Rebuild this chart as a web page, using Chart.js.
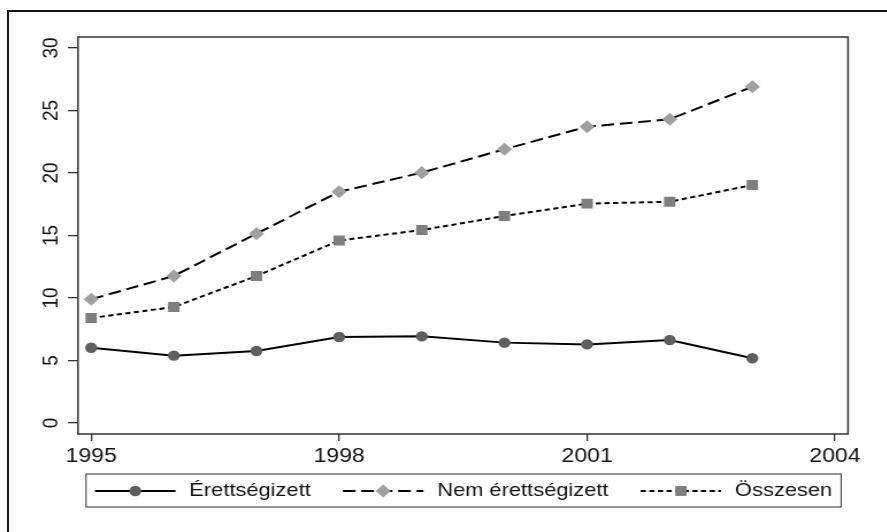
<!DOCTYPE html>
<html>
<head>
<meta charset="utf-8">
<script src="https://cdn.jsdelivr.net/npm/chart.js"></script>
<style>
    html, body { margin: 0; padding: 0; background: #fff; overflow: hidden; }
    body { width: 887px; height: 532px; position: relative; }
    #frame {
        position: absolute; left: 7px; top: 10px; width: 1000px; height: 1000px;
        border-left: 2px solid #111; border-top: 2px solid #111;
    }
    #stretch {
        position: absolute; left: 0; top: 0;
        transform: scaleX(1.15); transform-origin: 0 0;
    }
</style>
</head>
<body>
<div id="frame"></div>
<div id="stretch">
    <canvas id="chart" width="771" height="532"></canvas>
</div>
<script>
const years = [1995, 1996, 1997, 1998, 1999, 2000, 2001, 2002, 2003];
const erettsegizett = [6.02, 5.39, 5.76, 6.88, 6.93, 6.43, 6.29, 6.64, 5.18];
const nemErettsegizett = [9.9, 11.76, 15.15, 18.5, 20.03, 21.9, 23.7, 24.3, 26.9];
const osszesen = [8.4, 9.28, 11.76, 14.6, 15.44, 16.56, 17.55, 17.7, 19.04];

const xTicks = [1995, 1998, 2001, 2004];
const yTicks = [0, 5, 10, 15, 20, 25, 30];

const FONT = '"Liberation Sans", Arial, sans-serif';

function points(values) {
    return values.map((v, i) => ({ x: years[i], y: v }));
}

function drawMarker(ctx, style, r, x, y, color) {
    ctx.fillStyle = color;
    ctx.beginPath();
    if (style === 'circle') {
        ctx.arc(x, y, r, 0, Math.PI * 2);
    } else if (style === 'rect') {
        const s = r * Math.SQRT1_2;
        ctx.rect(x - s, y - s, 2 * s, 2 * s);
    } else {
        ctx.moveTo(x, y - r);
        ctx.lineTo(x + r, y);
        ctx.lineTo(x, y + r);
        ctx.lineTo(x - r, y);
        ctx.closePath();
    }
    ctx.fill();
}

// plot frame + legend box under the axis
const framePlugin = {
    id: 'framePlugin',
    afterDraw(chart) {
        const { ctx, chartArea } = chart;
        ctx.save();
        ctx.strokeStyle = '#333';
        ctx.lineWidth = 1.5;
        ctx.strokeRect(chartArea.left, chartArea.top, chartArea.right - chartArea.left, chartArea.bottom - chartArea.top);

        const left = chartArea.left + 7;
        const right = chartArea.right - 6;
        const top = chartArea.bottom + 40;
        const h = 33;
        ctx.lineWidth = 1;
        ctx.strokeRect(left, top, right - left, h);

        ctx.font = '19px ' + FONT;
        ctx.textBaseline = 'middle';
        ctx.textAlign = 'left';
        const sample = 70, gapText = 12, gapItem = 28;
        const items = chart.data.datasets.map(ds => ({ ds, w: ctx.measureText(ds.label).width }));
        const total = items.reduce((s, it) => s + sample + gapText + it.w, 0) + gapItem * (items.length - 1);
        let x = (left + right) / 2 - total / 2;
        const y = top + h / 2 + 0.5;
        items.forEach(({ ds, w }) => {
            ctx.beginPath();
            ctx.setLineDash(ds.borderDash || []);
            ctx.strokeStyle = ds.borderColor;
            ctx.lineWidth = ds.borderWidth;
            ctx.moveTo(x, y);
            ctx.lineTo(x + sample, y);
            ctx.stroke();
            ctx.setLineDash([]);
            drawMarker(ctx, ds.pointStyle, ds.pointRadius, x + sample / 2, y, ds.pointBackgroundColor);
            ctx.fillStyle = '#111';
            ctx.fillText(ds.label, x + sample + gapText, y);
            x += sample + gapText + w + gapItem;
        });
        ctx.restore();
    }
};

new Chart(document.getElementById('chart'), {
    type: 'line',
    data: {
        datasets: [{
            label: 'Érettségizett',
            data: points(erettsegizett),
            borderColor: '#000',
            borderWidth: 2,
            pointStyle: 'circle',
            pointRadius: 5.2,
            pointBackgroundColor: '#5f5f5f',
            pointBorderWidth: 0,
        }, {
            label: 'Nem érettségizett',
            data: points(nemErettsegizett),
            borderColor: '#000',
            borderWidth: 2,
            borderDash: [11, 5],
            pointStyle: 'rectRot',
            pointRadius: 6.6,
            pointBackgroundColor: '#a0a0a0',
            pointBorderWidth: 0,
        }, {
            label: 'Összesen',
            data: points(osszesen),
            borderColor: '#000',
            borderWidth: 2,
            borderDash: [4.5, 3],
            pointStyle: 'rect',
            pointRadius: 7,
            pointBackgroundColor: '#7f7f7f',
            pointBorderWidth: 0,
        }]
    },
    options: {
        responsive: false,
        animation: false,
        devicePixelRatio: 1,
        layout: { padding: { top: 37, right: 33.6, left: 0, bottom: 58 } },
        plugins: {
            legend: { display: false },
            tooltip: { enabled: false }
        },
        scales: {
            x: {
                type: 'linear',
                min: 1994.84,
                max: 2004.157,
                afterBuildTicks: (scale) => { scale.ticks = xTicks.map(v => ({ value: v })); },
                afterFit: (scale) => { scale.height = 40; },
                border: { display: false },
                grid: { drawOnChartArea: false, tickLength: 7, color: '#333', lineWidth: 1.3 },
                ticks: {
                    color: '#111',
                    font: { family: FONT, size: 20 },
                    padding: 3,
                    maxRotation: 0,
                    callback: (v) => String(v)
                }
            },
            y: {
                min: -0.88,
                max: 30.88,
                afterBuildTicks: (scale) => { scale.ticks = yTicks.map(v => ({ value: v })); },
                afterFit: (scale) => { scale.width = 67.8; },
                border: { display: false },
                grid: { drawOnChartArea: false, tickLength: 8.7, color: '#333', lineWidth: 1.3 },
                ticks: {
                    color: '#111',
                    font: { family: FONT, size: 19 },
                    padding: 3.5,
                    minRotation: 90,
                    maxRotation: 90,
                    crossAlign: 'center',
                    callback: (v) => String(v)
                }
            }
        }
    },
    plugins: [framePlugin]
});
</script>
</body>
</html>
